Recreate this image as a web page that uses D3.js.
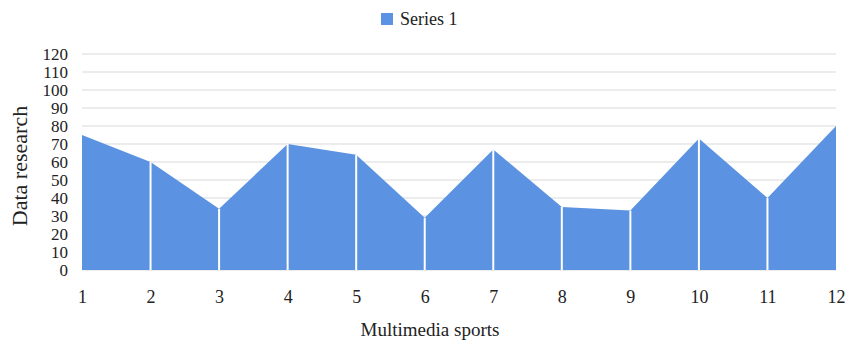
<!DOCTYPE html>
<html>
<head>
<meta charset="utf-8">
<script src="https://cdn.jsdelivr.net/npm/d3@7"></script>
<style>
  html, body { margin: 0; padding: 0; background: #fff; }
</style>
</head>
<body>
<svg id="chart" width="848" height="346"></svg>
<script>
// Values for the single series across the twelve categories
const categories = [1, 2, 3, 4, 5, 6, 7, 8, 9, 10, 11, 12];
const values = [75, 60, 34, 70, 64, 29, 67, 35, 33, 73, 40, 80];
const yTicks = [0, 10, 20, 30, 40, 50, 60, 70, 80, 90, 100, 110, 120];
const seriesName = "Series 1";
const xTitle = "Multimedia sports";
const yTitle = "Data research";

const W = 848, H = 346;
const margin = { left: 82, right: 12, top: 54, bottom: 76 };
const fill = "#5b93e2";
const FONT = '"Liberation Serif", "Times New Roman", Tinos, "Noto Serif", "DejaVu Serif", serif';

const svg = d3.select("#chart");

const x = d3.scaleLinear()
  .domain([categories[0], categories[categories.length - 1]])
  .range([margin.left, W - margin.right]);
const y = d3.scaleLinear()
  .domain([0, 120])
  .range([H - margin.bottom, margin.top]);

// horizontal gridlines
svg.append("g")
  .selectAll("line")
  .data(yTicks)
  .join("line")
  .attr("x1", x.range()[0])
  .attr("x2", x.range()[1])
  .attr("y1", d => y(d))
  .attr("y2", d => y(d))
  .attr("stroke", "#d9d9d9")
  .attr("stroke-width", 1);

// area fill
const data = categories.map((c, i) => ({ c, v: values[i] }));
const area = d3.area()
  .x(d => x(d.c))
  .y0(y(0))
  .y1(d => y(d.v));
svg.append("path")
  .datum(data)
  .attr("d", area)
  .attr("fill", fill);

// white dividers at each interior category
svg.append("g")
  .selectAll("line")
  .data(data.slice(1, -1))
  .join("line")
  .attr("x1", d => x(d.c))
  .attr("x2", d => x(d.c))
  .attr("y1", d => y(d.v))
  .attr("y2", y(0))
  .attr("stroke", "#ffffff")
  .attr("stroke-width", 2);

// y axis labels
const yAxis = d3.axisLeft(y).tickValues(yTicks).tickSize(0).tickPadding(14);
const gy = svg.append("g")
  .attr("transform", `translate(${margin.left},0)`)
  .call(yAxis);
gy.attr("font-family", FONT).attr("font-size", 17);
gy.select(".domain").remove();
gy.selectAll("text").attr("fill", "#222");

// x axis labels
const xAxis = d3.axisBottom(x).tickValues(categories).tickFormat(d3.format("d")).tickSize(0).tickPadding(20);
const gx = svg.append("g")
  .attr("transform", `translate(0,${y(0)})`)
  .call(xAxis);
gx.attr("font-family", FONT).attr("font-size", 18);
gx.select(".domain").remove();
gx.selectAll("text").attr("fill", "#222");

// axis titles
svg.append("text")
  .attr("x", 430)
  .attr("y", 336)
  .attr("text-anchor", "middle")
  .attr("font-family", FONT)
  .attr("font-size", 19)
  .attr("fill", "#222")
  .text(xTitle);

svg.append("text")
  .attr("transform", "translate(27,166) rotate(-90)")
  .attr("text-anchor", "middle")
  .attr("font-family", FONT)
  .attr("font-size", 22)
  .attr("fill", "#222")
  .text(yTitle);

// legend
const legend = svg.append("g").attr("transform", "translate(381,13)");
legend.append("rect")
  .attr("width", 12).attr("height", 12)
  .attr("fill", fill);
legend.append("text")
  .attr("x", 19).attr("y", 12)
  .attr("font-family", FONT)
  .attr("font-size", 18)
  .attr("fill", "#222")
  .text(seriesName);
</script>
</body>
</html>
